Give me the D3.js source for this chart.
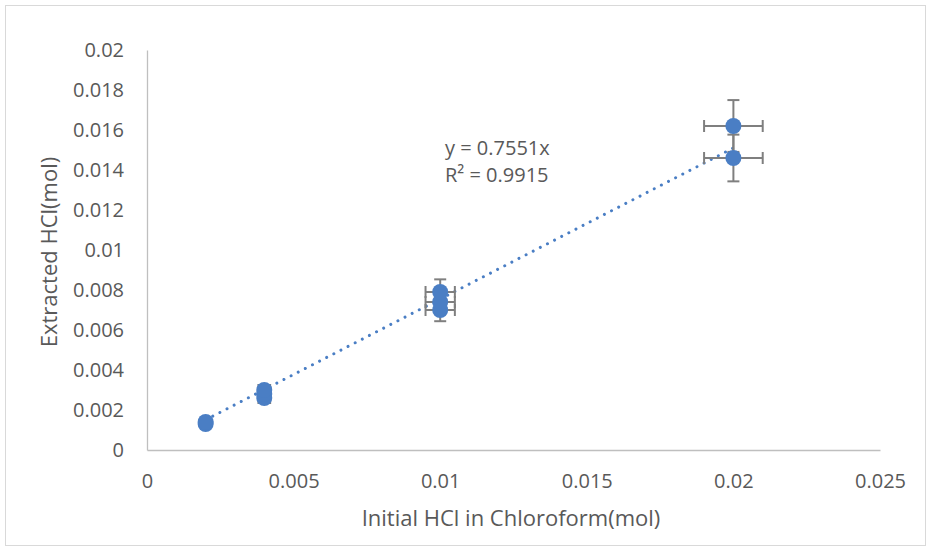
<!DOCTYPE html>
<html lang="en">
<head>
    <meta charset="UTF-8">
    <title>Extracted HCl vs Initial HCl</title>
    <script src="https://d3js.org/d3.v7.min.js"></script>
    <style>
        body { margin: 0; background: #fff; }
        svg { font-family: "Open Sans", sans-serif; }
        .tick-label { font-size: 20px; fill: #595959; }
        .axis-title { font-size: 22px; fill: #595959; }
        .eq { font-size: 20px; fill: #595959; }
    </style>
</head>
<body>
    <svg width="931" height="551"></svg>
    <script>
        // data
        const initialHCl   = [0.002, 0.002, 0.004, 0.004, 0.004, 0.01, 0.01, 0.01, 0.02, 0.02];
        const extractedHCl = [0.0013, 0.0014, 0.0026, 0.0028, 0.0030, 0.0070, 0.0074, 0.0079, 0.0146, 0.0162];
        const xErrPercent = 5;   // percentage error bars as set in the sheet
        const yErrPercent = 8;
        const xTicks = [0, 0.005, 0.01, 0.015, 0.02, 0.025];
        const yTicks = [0, 0.002, 0.004, 0.006, 0.008, 0.01, 0.012, 0.014, 0.016, 0.018, 0.02];
        const trendSlope = 0.7551;
        const trendR2 = 0.9915;
        const trendRange = [0.002, 0.02];

        const svg = d3.select("svg");
        const blue = "#4a7ec4";
        const errGray = "#7f7f7f";

        // chart border
        svg.append("rect")
            .attr("x", 5.5).attr("y", 5.5)
            .attr("width", 920).attr("height", 540)
            .attr("fill", "none")
            .attr("stroke", "#d9d9d9");

        const x = d3.scaleLinear().domain([0, 0.025]).range([147, 880]);
        const y = d3.scaleLinear().domain([0, 0.02]).range([450, 50]);

        const points = initialHCl.map((v, i) => ({x: v, y: extractedHCl[i]}));

        // axes (lines only, no tick marks)
        const xAxis = svg.append("g")
            .attr("transform", `translate(0,${y(0)})`)
            .call(d3.axisBottom(x).tickValues(xTicks).tickSize(0).tickPadding(24)
                .tickFormat(d => d3.format("")(+d.toFixed(3))));
        const yAxis = svg.append("g")
            .attr("transform", `translate(${x(0)},0)`)
            .call(d3.axisLeft(y).tickValues(yTicks).tickSize(0).tickPadding(23)
                .tickFormat(d => d3.format("")(+d.toFixed(3))));

        [xAxis, yAxis].forEach(a => {
            a.select(".domain").attr("stroke", "#bfbfbf").attr("stroke-width", 1.3);
            a.selectAll("text").attr("class", "tick-label").attr("fill", null)
                .style("font-family", null).style("font-size", null);
            a.attr("font-family", null).attr("font-size", null);
        });

        // trendline
        svg.append("line")
            .attr("x1", x(trendRange[0])).attr("y1", y(trendRange[0] * trendSlope))
            .attr("x2", x(trendRange[1])).attr("y2", y(trendRange[1] * trendSlope))
            .attr("stroke", blue)
            .attr("stroke-width", 3)
            .attr("stroke-linecap", "round")
            .attr("stroke-dasharray", "0.01 8");

        // error bars
        const cap = 6;
        const eb = svg.append("g").attr("stroke", errGray).attr("stroke-width", 2).attr("fill", "none");
        points.forEach(p => {
            const dx = p.x * xErrPercent / 100;
            const dy = p.y * yErrPercent / 100;
            const cx = x(p.x), cy = y(p.y);
            const xl = x(p.x - dx), xr = x(p.x + dx);
            const yt = y(p.y + dy), yb = y(p.y - dy);
            eb.append("line").attr("x1", xl).attr("x2", xr).attr("y1", cy).attr("y2", cy);
            eb.append("line").attr("x1", xl).attr("x2", xl).attr("y1", cy - cap).attr("y2", cy + cap);
            eb.append("line").attr("x1", xr).attr("x2", xr).attr("y1", cy - cap).attr("y2", cy + cap);
            eb.append("line").attr("x1", cx).attr("x2", cx).attr("y1", yt).attr("y2", yb);
            eb.append("line").attr("x1", cx - cap).attr("x2", cx + cap).attr("y1", yt).attr("y2", yt);
            eb.append("line").attr("x1", cx - cap).attr("x2", cx + cap).attr("y1", yb).attr("y2", yb);
        });

        // markers
        svg.append("g").selectAll("circle")
            .data(points)
            .join("circle")
            .attr("cx", d => x(d.x))
            .attr("cy", d => y(d.y))
            .attr("r", 8)
            .attr("fill", blue);

        // trendline label
        svg.append("text").attr("class", "eq").attr("x", 445).attr("y", 155)
            .text(`y = ${trendSlope}x`);
        svg.append("text").attr("class", "eq").attr("x", 445).attr("y", 182)
            .text(`R\u00b2 = ${trendR2}`);

        // axis titles
        svg.append("text")
            .attr("class", "axis-title")
            .attr("x", 511).attr("y", 526)
            .attr("text-anchor", "middle")
            .text("Initial HCl in Chloroform(mol)");
        svg.append("text")
            .attr("class", "axis-title")
            .attr("transform", "translate(57,252) rotate(-90)")
            .attr("text-anchor", "middle")
            .text("Extracted HCl(mol)");
    </script>
</body>
</html>
